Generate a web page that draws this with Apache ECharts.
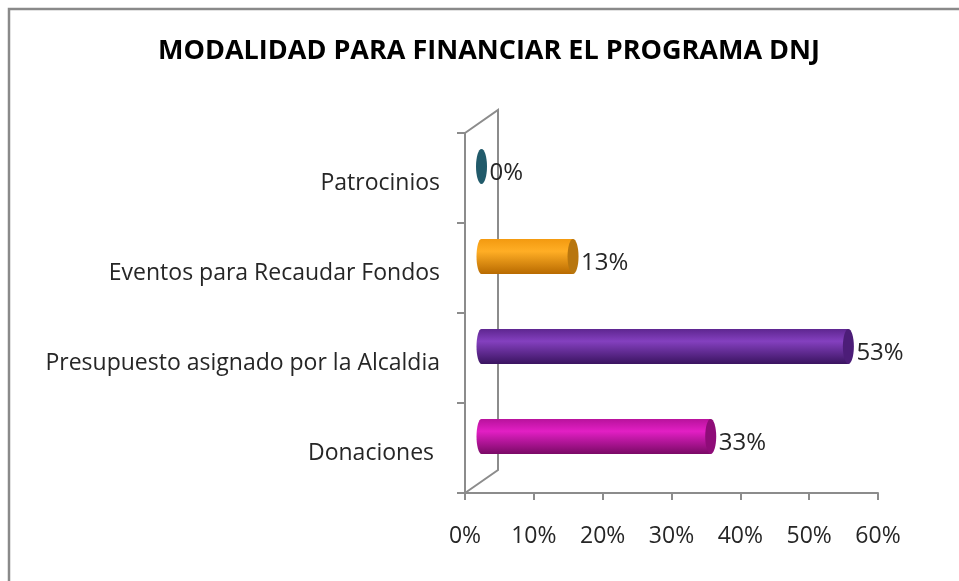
<!DOCTYPE html>
<html>
<head>
<meta charset="utf-8">
<script src="https://cdn.jsdelivr.net/npm/echarts@6/dist/echarts.min.js"></script>
<style>
  html, body { margin: 0; padding: 0; background: #fff; }
  #main { width: 959px; height: 581px; }
</style>
</head>
<body>
<div id="main"></div>
<script>
var categories = ['Donaciones ', 'Presupuesto asignado por la Alcaldia', 'Eventos para Recaudar Fondos', 'Patrocinios'];
var values = [33.3, 53.3, 13.3, 0];
var xTicks = [0, 10, 20, 30, 40, 50, 60];

// cylinder colours per category (dark edge, highlight, cap)
var palette = [
  { top: '#b8129c', mid: '#e21fc4', bot: '#7a0a66', cap: '#8e0c78' },
  { top: '#5e2690', mid: '#8440bf', bot: '#3a1460', cap: '#4c1d78' },
  { top: '#f39a10', mid: '#ffae25', bot: '#b86a00', cap: '#b8760e' },
  { top: '#215a6a', mid: '#215a6a', bot: '#215a6a', cap: '#215a6a' }
];

var G = { left: 465, top: 133, right: 81, bottom: 88 };
var DX = 33, DY = -23;          // depth of the 3D box
var BAR_H = 35, CAP_RX = 5;
var FONT = '"Open Sans"';

var myChart = echarts.init(document.getElementById('main'));

function renderCylinder(params, api) {
  var idx = api.value(1);
  var p0 = api.coord([0, idx]);
  var p1 = api.coord([api.value(0), idx]);
  var c = palette[idx];
  var x0 = p0[0] + DX / 2, x1 = p1[0] + DX / 2, yc = p0[1] + DY / 2;
  var grad = new echarts.graphic.LinearGradient(0, 0, 0, 1, [
    { offset: 0, color: c.top },
    { offset: 0.35, color: c.mid },
    { offset: 1, color: c.bot }
  ]);
  var kids = [];
  if (x1 - x0 > 0.5) {
    kids.push({ type: 'ellipse', shape: { cx: x0, cy: yc, rx: CAP_RX, ry: BAR_H / 2 }, style: { fill: grad } });
    kids.push({ type: 'rect', shape: { x: x0, y: yc - BAR_H / 2, width: x1 - x0, height: BAR_H }, style: { fill: grad } });
  }
  kids.push({ type: 'ellipse', shape: { cx: x1, cy: yc, rx: CAP_RX + 0.5, ry: BAR_H / 2 }, style: { fill: c.cap } });
  kids.push({
    type: 'text',
    style: {
      x: x1 + CAP_RX + 3, y: yc + 7,
      text: Math.round(api.value(0)) + '%',
      fill: '#262626', font: '24px ' + FONT,
      verticalAlign: 'middle', align: 'left'
    }
  });
  return { type: 'group', children: kids };
}

var wallColor = '#8c8c8c';
var H = 581 - G.top - G.bottom;
var option = {
  title: {
    text: 'MODALIDAD PARA FINANCIAR EL PROGRAMA DNJ',
    left: 484, top: 33, textAlign: 'center',
    textStyle: { fontFamily: 'Open Sans', fontWeight: 'bold', fontSize: 27, color: '#000' }
  },
  grid: { left: G.left, top: G.top, right: G.right, bottom: G.bottom },
  xAxis: {
    type: 'value', min: 0, max: 60, interval: 10,
    axisLine: { show: true, lineStyle: { color: wallColor, width: 2 } },
    axisTick: { show: true, length: 7, lineStyle: { color: wallColor, width: 2 } },
    splitLine: { show: false },
    axisLabel: {
      margin: 32, color: '#262626', fontFamily: 'Open Sans', fontSize: 23,
      formatter: function (v) { return xTicks.indexOf(v) >= 0 ? v + '%' : ''; }
    }
  },
  yAxis: {
    type: 'category', data: categories,
    axisLine: { show: true, lineStyle: { color: wallColor, width: 2 } },
    axisTick: { show: true, length: 8, lineStyle: { color: wallColor, width: 2 } },
    axisLabel: {
      margin: 25,
      formatter: function (v) { return '{c|' + v + '}'; },
      rich: { c: { color: '#262626', fontFamily: 'Open Sans', fontSize: 23, padding: [10, 0, 0, 0] } }
    }
  },
  graphic: [
    { type: 'rect', shape: { x: 9, y: 9, width: 1000, height: 1000 }, style: { fill: 'none', stroke: '#8a8a8a', lineWidth: 2.5 }, z: 0 },
    { type: 'polyline', shape: { points: [
        [G.left, G.top], [G.left + DX, G.top + DY],
        [G.left + DX, G.top + H + DY], [G.left, G.top + H]
      ] }, style: { fill: 'none', stroke: wallColor, lineWidth: 2 }, z: 1 }
  ],
  series: [{
    type: 'custom',
    renderItem: renderCylinder,
    encode: { x: 0, y: 1 },
    data: values.map(function (v, i) { return [v, i]; }),
    z: 5
  }]
};
myChart.setOption(option);
</script>
</body>
</html>
